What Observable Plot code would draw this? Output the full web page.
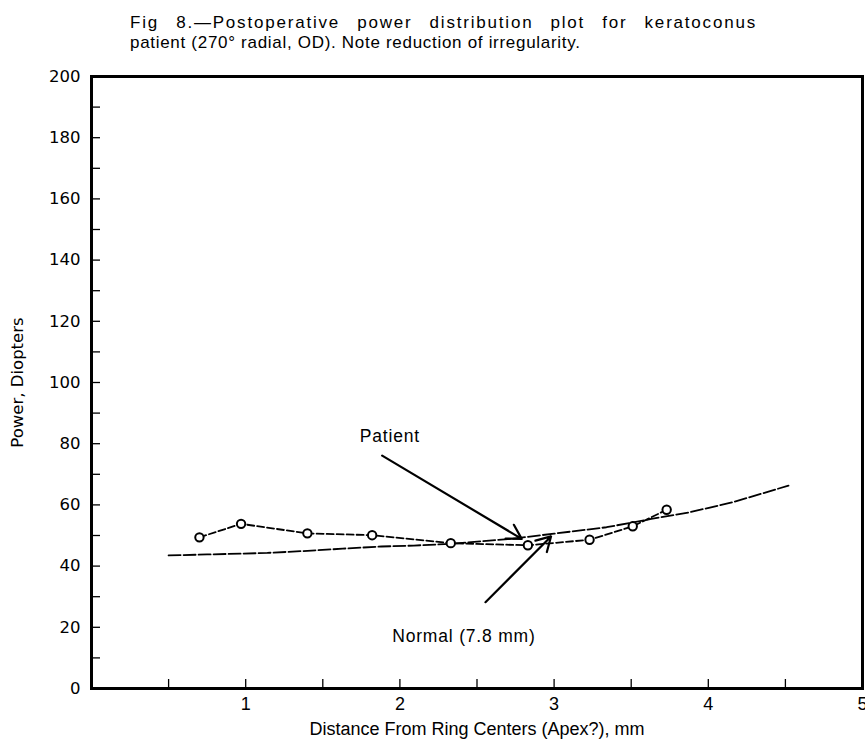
<!DOCTYPE html>
<html>
<head>
<meta charset="utf-8">
<script src="https://cdn.jsdelivr.net/npm/d3@7"></script>
<script src="https://cdn.jsdelivr.net/npm/@observablehq/plot@0.6"></script>
<style>
  html, body { margin: 0; padding: 0; background: #fff; }
  #title { height: 62px; box-sizing: border-box; padding-top: 13px; padding-left: 130px;
           font-family: "Liberation Sans", Arial, sans-serif; font-size: 17px; line-height: 20px; color: #000; letter-spacing: 0.7px; }
  #title .l1 { width: 627px; text-align: justify; text-align-last: justify; letter-spacing: 1.8px; }
  #title .l2 { width: 627px; }
  #chart svg { display: block; }
  .note text { letter-spacing: 0.8px; }
</style>
</head>
<body>
<div id="title">
  <div class="l1">Fig 8.—Postoperative power distribution plot for keratoconus</div>
  <div class="l2">patient (270° radial, OD). Note reduction of irregularity.</div>
</div>
<div id="chart"></div>
<script>
// ---- data ----
const patientX = [0.70, 0.97, 1.40, 1.82, 2.33, 2.83, 3.23, 3.51, 3.73];
const patientY = [49.4, 53.8, 50.7, 50.1, 47.5, 46.8, 48.6, 53.0, 58.4];

const normalX = [0.50, 0.75, 1.14, 1.37, 1.63, 1.88, 2.09, 2.33, 2.70, 3.00, 3.34, 3.63, 3.88, 4.16, 4.34, 4.52];
const normalY = [43.5, 43.8, 44.3, 44.9, 45.7, 46.4, 46.7, 47.3, 48.8, 50.6, 52.7, 55.4, 57.6, 60.9, 63.6, 66.3];

const yTickLabels = [0, 20, 40, 60, 80, 100, 120, 140, 160, 180, 200];
const yMinorTicks = [10, 20, 30, 40, 50, 60, 70, 80, 90, 100, 110, 120, 130, 140, 150, 160, 170, 180, 190];
const xTickLabels = [1, 2, 3, 4, 5];
const xMinorTicks = [0.5, 1, 1.5, 2, 2.5, 3, 3.5, 4, 4.5];

const annotationText = ["Patient", "Normal (7.8 mm)"];
const annotationX = [1.935, 2.415];
const annotationY = [82.3, 17];

const arrowX1 = [1.885, 2.555];
const arrowY1 = [76.1, 28.2];
const arrowX2 = [2.79, 2.98];
const arrowY2 = [48.9, 49.7];

// ---- tables built from the arrays ----
const patient = patientX.map((x, i) => ({x, y: patientY[i]}));
const normal = normalX.map((x, i) => ({x, y: normalY[i]}));
const notes = annotationText.map((t, i) => ({t, x: annotationX[i], y: annotationY[i]}));
const arrows = arrowX1.map((x1, i) => ({x1, y1: arrowY1[i], x2: arrowX2[i], y2: arrowY2[i]}));

const chart = Plot.plot({
  width: 865,
  height: 680,
  marginTop: 14,
  marginBottom: 54,
  marginLeft: 91,
  marginRight: 3,
  style: { fontFamily: "Liberation Sans, Arial, sans-serif", background: "#fff", color: "#000" },
  x: { domain: [0, 5] },
  y: { domain: [0, 200] },
  marks: [
    // inward minor/major ticks
    Plot.axisY({ ticks: yMinorTicks, tickSize: -9, text: null, label: null, strokeWidth: 1.3 }),
    Plot.axisX({ ticks: xMinorTicks, tickSize: -9, text: null, label: null, strokeWidth: 1.3 }),
    // tick labels
    Plot.axisY({ ticks: yTickLabels, tickSize: 0, tickPadding: 11, fontSize: 16.5, fontFamily: "DejaVu Sans, sans-serif",
                 tickFormat: d => String(d),
                 label: "Power, Diopters", labelAnchor: "center", labelArrow: "none", labelOffset: 80 }),
    Plot.axisX({ ticks: xTickLabels, tickSize: 0, tickPadding: 9, fontSize: 18, fontFamily: "Liberation Sans, sans-serif",
                 tickFormat: d => String(d),
                 label: "Distance From Ring Centers (Apex?), mm", labelAnchor: "center", labelArrow: "none", labelOffset: 46 }),
    Plot.frame({ stroke: "#000", strokeWidth: 3 }),
    // normal curve
    Plot.line(normal, { x: "x", y: "y", stroke: "#000", strokeWidth: 1.8, strokeDasharray: "12,3" }),
    // patient curve
    Plot.line(patient, { x: "x", y: "y", stroke: "#000", strokeWidth: 1.8, strokeDasharray: "7,3" }),
    Plot.dot(patient, { x: "x", y: "y", r: 4.2, stroke: "#000", strokeWidth: 2, fill: "#fff" }),
    // annotations
    Plot.arrow(arrows, { x1: "x1", y1: "y1", x2: "x2", y2: "y2", stroke: "#000", strokeWidth: 2.2, headLength: 11 }),
    Plot.text(notes, { x: "x", y: "y", text: "t", fontSize: 17.5, fill: "#000", className: "note",
                       fontFamily: "Liberation Sans, Arial, sans-serif" })
  ]
});
document.getElementById("chart").appendChild(chart);
</script>
</body>
</html>
